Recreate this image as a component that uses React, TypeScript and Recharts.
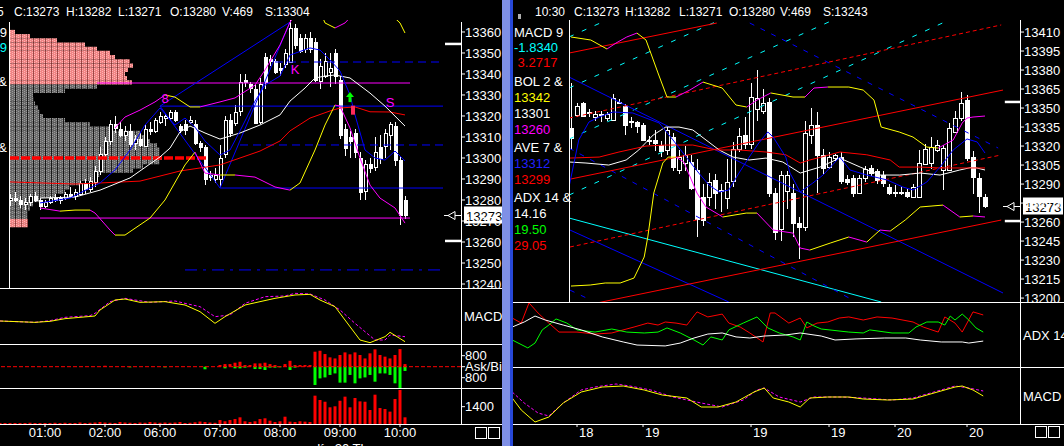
import React from "react";
import {
  ComposedChart,
  BarChart,
  Bar,
  Line,
  Scatter,
  XAxis,
  YAxis,
  ReferenceLine,
  Cell,
} from "recharts";

const FONT = '"Liberation Sans", Arial, Helvetica, sans-serif';
const WHITE = "#ffffff";
const RED = "#ff0000";
const BLUE = "#0000ff";
const MAG = "#ff00ff";
const YEL = "#ffff00";
const CYAN = "#00ffff";
const GREEN = "#00ff00";

// ---------------- left: 5 minute chart ----------------
const leftTimeLabels = ["01:00", "02:00", "06:00", "07:00", "08:00", "09:00", "10:00"];
const leftTimeBars = [9, 21, 32, 44, 56, 68, 80];
const leftPriceTicks = [13240, 13250, 13260, 13270, 13280, 13290, 13300, 13310, 13320, 13330, 13340, 13350, 13360];
const leftLast = 13273;

// bar, open, high, low, close
const leftCandles = [
  [2, 13280, 13283, 13277, 13281], [3, 13281, 13284, 13279, 13280], [4, 13280, 13282, 13276, 13278],
  [5, 13278, 13281, 13275, 13279], [6, 13279, 13283, 13277, 13282], [7, 13282, 13284, 13279, 13280],
  [8, 13280, 13281, 13275, 13277], [9, 13277, 13280, 13276, 13279], [10, 13279, 13282, 13278, 13281],
  [11, 13281, 13283, 13279, 13280], [12, 13280, 13282, 13278, 13281], [13, 13281, 13284, 13280, 13283],
  [14, 13283, 13286, 13281, 13282], [15, 13282, 13285, 13280, 13284], [16, 13283, 13289, 13282, 13288],
  [17, 13288, 13290, 13283, 13285], [18, 13285, 13291, 13284, 13289], [19, 13289, 13296, 13286, 13294],
  [20, 13294, 13305, 13292, 13302], [21, 13302, 13310, 13300, 13308], [22, 13308, 13318, 13306, 13316],
  [23, 13316, 13320, 13312, 13314], [24, 13314, 13317, 13310, 13311], [25, 13311, 13315, 13308, 13313],
  [26, 13313, 13316, 13305, 13307], [27, 13307, 13311, 13304, 13309], [28, 13309, 13312, 13305, 13306],
  [29, 13306, 13316, 13305, 13314], [30, 13314, 13317, 13311, 13313], [31, 13313, 13319, 13312, 13318],
  [32, 13317, 13322, 13316, 13320], [33, 13319, 13321, 13315, 13320], [34, 13319, 13323, 13318, 13322],
  [35, 13322, 13323, 13317, 13318], [36, 13315, 13316, 13312, 13313], [37, 13316, 13318, 13311, 13313],
  [38, 13317, 13320, 13316, 13318], [39, 13316, 13318, 13306, 13307], [40, 13307, 13308, 13303, 13305],
  [41, 13305, 13306, 13287, 13290], [42, 13292, 13294, 13289, 13291], [43, 13290, 13295, 13288, 13292],
  [44, 13290, 13306, 13286, 13300], [45, 13302, 13320, 13300, 13318], [46, 13318, 13321, 13310, 13312],
  [47, 13317, 13325, 13315, 13322], [48, 13322, 13340, 13320, 13336], [49, 13337, 13340, 13334, 13336],
  [50, 13335, 13336, 13331, 13333], [51, 13333, 13335, 13316, 13317], [52, 13317, 13338, 13316, 13335],
  [53, 13348, 13350, 13333, 13336], [54, 13347, 13349, 13344, 13346], [55, 13346, 13347, 13340, 13341],
  [56, 13343, 13345, 13339, 13342], [57, 13345, 13352, 13343, 13350], [58, 13346, 13366, 13345, 13362],
  [59, 13362, 13364, 13352, 13354], [60, 13357, 13359, 13350, 13351], [61, 13352, 13359, 13350, 13357],
  [62, 13357, 13360, 13350, 13352], [63, 13355, 13357, 13336, 13337], [64, 13337, 13347, 13333, 13344],
  [65, 13339, 13350, 13338, 13346], [66, 13341, 13350, 13334, 13343], [67, 13350, 13352, 13335, 13339],
  [68, 13337, 13339, 13309, 13311], [69, 13314, 13316, 13301, 13305], [70, 13310, 13313, 13300, 13308],
  [71, 13312, 13314, 13300, 13303], [72, 13300, 13303, 13280, 13284], [73, 13284, 13299, 13280, 13297],
  [74, 13297, 13300, 13293, 13295], [75, 13296, 13310, 13294, 13303], [76, 13305, 13311, 13297, 13300],
  [77, 13306, 13314, 13300, 13312], [78, 13311, 13317, 13304, 13316], [79, 13315, 13317, 13296, 13299],
  [80, 13299, 13301, 13268, 13273], [81, 13280, 13282, 13271, 13273],
];

const leftUpperBand = [
  [23, 13314.3], [25, 13319.5], [28, 13322.8], [31, 13326.7], [33, 13330], [35, 13329], [38, 13324.3],
  [40, 13324.3], [44, 13326.7], [47, 13328.6], [51, 13334.7], [53, 13341.9], [56, 13353.8], [58, 13364.7],
  [61, 13374], [64, 13370], [65, 13364.3], [67, 13361.9], [69, 13364.3], [72, 13372], [77, 13371],
  [80, 13364.3], [81, 13359.5],
];
const leftLowerBand = [
  [8, 13276.2], [12, 13274.7], [15, 13275.2], [18, 13275.2], [19, 13273.8], [22, 13265.7], [23, 13263.3],
  [25, 13263.3], [30, 13271.4], [33, 13280], [37, 13296.7], [39, 13302.8], [41, 13292.8], [44, 13291.9],
  [47, 13291.9], [51, 13290.9], [55, 13286.2], [58, 13284.7], [60, 13288.1], [63, 13303.8], [65, 13315.7],
  [67, 13325.2], [68, 13324.7], [70, 13314.3], [72, 13300], [74, 13287.1], [76, 13280.9], [79, 13276.2],
  [81, 13269],
];
const leftRedAvg = [
  [2, 13288.6], [15, 13287.6], [20, 13288.1], [28, 13289], [36, 13293.8], [44, 13296.7], [48, 13300],
  [52, 13303.3], [56, 13308.1], [58, 13312.9], [62, 13319], [66, 13322.4], [68, 13323.8], [71, 13324.3],
  [74, 13322], [78, 13321.9], [81, 13320.5],
];
const leftWhiteAvg = [
  [8, 13280.9], [15, 13281.4], [20, 13284.7], [26, 13290.5], [32, 13300.5], [34, 13304.7], [36, 13312.4],
  [38, 13315.2], [41, 13311.9], [44, 13309], [48, 13311.9], [52, 13315.7], [56, 13320.5], [58, 13327.1],
  [61, 13333.3], [63, 13338.1], [65, 13339], [67, 13339.5], [70, 13338.1], [74, 13330.9], [77, 13324.7],
  [81, 13315.2],
];
const leftBlueAvg = [
  [8, 13278.6], [14, 13280.9], [20, 13288.1], [23, 13294.3], [26, 13303.8], [29, 13315.7], [32, 13323.8],
  [35, 13315.7], [37, 13319], [39, 13314.7], [41, 13308.1], [44, 13301.4], [46, 13303.8], [48, 13312.9],
  [51, 13327.1], [53, 13334.7], [56, 13339], [58, 13349], [62, 13352.4], [64, 13351.4], [66, 13346.7],
  [68, 13341.4], [70, 13330], [71, 13320.5], [73, 13303.8], [75, 13300], [77, 13299], [79, 13303.3],
  [81, 13298.6],
];
const leftZigzag = [[58, 13364.7], [32, 13324.7], [44, 13285.7], [58, 13364.7]];
// from bar, to bar, price
const leftBlueLevels = [[32, 88.6, 13324.7], [44, 88.6, 13285.7]];
const leftBlueDashLevels = [[55, 88.6, 13345.7], [48, 88.6, 13306.2]];
const leftBlueDashDotLevels = [[37, 88.6, 13246.7]];
const leftValueArea = [[19.4, 82, 13335.7], [8, 82, 13271.4]];
const leftPoc = [[2, 41.6, 13300]];
const leftEdgeMarks = [13354.3, 13260.5];
const leftSignals = [
  { x: 33, v: 13328.6, t: "8" },
  { x: 59, v: 13342.4, t: "K" },
  { x: 78, v: 13326.7, t: "S" },
];
const leftBuyArrow = [{ x: 70, v: 13329 }];
const leftStopMark = [{ x: 70.6, v: 13323 }];

// volume at price (price level, width of row)
const profilePrices = [
  13360, 13358, 13356, 13354, 13352, 13350, 13348, 13346, 13344, 13342, 13340, 13338, 13336, 13334, 13332,
  13330, 13328, 13326, 13324, 13322, 13320, 13318, 13316, 13314, 13312, 13310, 13308, 13306, 13304, 13302,
  13300, 13298, 13296, 13294, 13292, 13290, 13288, 13286, 13284, 13282, 13280, 13278, 13276, 13274, 13272,
  13270, 13268,
];
const profileWidths = [
  5, 20, 47, 75, 87, 100, 105, 120, 123, 118, 115, 117, 122, 87, 55, 23, 24, 25, 28, 30, 33, 55, 80, 100,
  130, 137, 140, 147, 150, 150, 152, 150, 133, 123, 90, 85, 70, 60, 55, 45, 30, 23, 20, 18, 18, 18, 18,
];

const leftMacd = [
  [0, 0.2], [7, -0.2], [10, 0.1], [13, 0.9], [19, 1.7], [20, 3.5], [23, 6.5], [25, 6.8], [28, 5.8], [33, 6.0],
  [37, 5.0], [40, 3.0], [43, -0.5], [45, 1.5], [49, 5.0], [52, 6.0], [55, 7.0], [59, 8.0], [62, 8.2], [64, 6.5],
  [67, 4.5], [69, 0.5], [72, -5.5], [74, -6.3], [77, -4.5], [78, -3.2], [81, -6.0],
];
const leftMacdSignal = [
  [0, 0.2], [7, -0.2], [10, 0.3], [13, 1.3], [18, 1.8], [19, 2.5], [22, 6.0], [25, 7.0], [27, 6.5], [30, 5.8],
  [35, 6.2], [37, 5.5], [40, 4.5], [43, 1.5], [46, 2.0], [49, 5.5], [53, 7.5], [57, 7.7], [59, 8.5], [62, 8.3],
  [65, 6.5], [68, 3.5], [71, -0.5], [73, -3.0], [75, -5.5], [77, -5.5], [78, -4.0], [81, -4.5],
];

// per bar 0..81
const leftAsk = [
  0, 0, 0, 0, 0, 0, 0, 0, 0, 0, 0, 0, 0, 0, 0, 0, 0, 0, 0, 0, 0, 70, 0, 0, 0, 0, 0, 0, 0, 0, 0, 0, 0, 0, 0,
  0, 0, 0, 0, 0, 0, 0, 0, 0, 120, 190, 190, 290, 360, 120, 120, 240, 240, 290, 190, 120, 50, 190, 430, 120,
  120, 120, 120, 1090, 1160, 920, 680, 600, 850, 1040, 900, 1040, 850, 600, 970, 1260, 850, 730, 600, 850,
  1280, 190,
];
const leftBid = [
  0, 0, 0, 0, 0, 0, 0, 0, 0, 0, 0, 0, 0, 0, 0, 0, 0, 0, 0, 0, 0, 0, 0, 0, 0, 0, 50, 0, 0, 0, 0, 0, 0, 50, 0,
  0, 0, 0, 0, 0, 0, 190, 0, 0, 0, 120, 0, 120, 120, 70, 0, 170, 170, 240, 70, 70, 50, 0, 240, 70, 0, 0, 0,
  1330, 850, 780, 600, 490, 1160, 1160, 600, 1210, 850, 780, 600, 1090, 490, 490, 600, 1210, 1580, 310,
];
const leftVolume = [
  80, 80, 80, 80, 80, 80, 100, 80, 80, 80, 80, 100, 80, 100, 80, 80, 120, 80, 100, 120, 160, 120, 100, 80,
  160, 120, 100, 80, 120, 100, 160, 120, 100, 120, 100, 120, 160, 80, 100, 140, 200, 160, 120, 100, 320,
  220, 320, 400, 540, 220, 160, 220, 400, 460, 270, 160, 220, 590, 190, 160, 220, 190, 160, 2290, 1940,
  1800, 1350, 1430, 1880, 2210, 1350, 2100, 1830, 1800, 1130, 2370, 1290, 1210, 1000, 2020, 2750, 540,
];

// ---------------- right: intraday chart ----------------
const rightDayLabels = ["18", "19", "19", "19", "20", "20"];
const rightDayBars = [1, 12, 30, 43, 54, 66];
const rightPriceTicks = [13200, 13215, 13230, 13245, 13260, 13275, 13290, 13305, 13320, 13335, 13350, 13365, 13380, 13395, 13410];
const rightLast = 13273;

const rightCandles = [
  [0, 13334, 13370, 13317, 13326], [1, 13345, 13354, 13343, 13352], [2, 13354, 13355, 13343, 13344],
  [3, 13347, 13349, 13343, 13346], [4, 13343, 13348, 13340, 13345], [5, 13345, 13348, 13339, 13344],
  [6, 13342, 13347, 13340, 13345], [7, 13341, 13361, 13340, 13358], [8, 13355, 13357, 13353, 13355],
  [9, 13352, 13353, 13329, 13337], [10, 13340, 13343, 13334, 13339], [11, 13339, 13340, 13330, 13336],
  [12, 13337, 13338, 13324, 13325], [13, 13325, 13328, 13321, 13325], [14, 13325, 13333, 13316, 13322.5],
  [15, 13321, 13324, 13311, 13316], [16, 13317, 13335, 13313, 13333], [17, 13327, 13330, 13300, 13303],
  [18, 13301, 13317, 13298, 13311], [19, 13307, 13320, 13300, 13313], [20, 13307.5, 13313, 13285, 13287],
  [21, 13301, 13310, 13248, 13262], [22, 13280, 13290, 13257, 13262], [23, 13280, 13299, 13273, 13292],
  [24, 13293, 13298, 13270, 13283], [25, 13285, 13290, 13268, 13284], [26, 13279, 13310, 13270, 13292],
  [27, 13293, 13323, 13288, 13318], [28, 13318, 13334, 13315, 13328], [29, 13329, 13343, 13318, 13322],
  [30, 13322, 13370, 13318, 13359], [31, 13349, 13380, 13340, 13358], [32, 13348, 13365, 13345, 13354],
  [33, 13355, 13358, 13280, 13283], [34, 13283, 13287, 13246, 13252], [35, 13254, 13300, 13245, 13297],
  [36, 13284, 13300, 13270, 13297], [37, 13283, 13290, 13248, 13259], [38, 13259, 13264, 13231, 13256],
  [39, 13256, 13340, 13253, 13330], [40, 13329, 13350, 13322, 13337], [41, 13337, 13347, 13283, 13313],
  [42, 13313, 13318, 13297, 13303], [43, 13303, 13315, 13302, 13311], [44, 13311, 13314, 13308, 13313],
  [45, 13311, 13315, 13290, 13292], [46, 13294, 13297, 13289, 13292], [47, 13295, 13297, 13280, 13283],
  [48, 13283, 13297, 13282, 13295], [49, 13295, 13304, 13292, 13302], [50, 13303, 13305, 13296, 13299],
  [51, 13300, 13302, 13290, 13293], [52, 13297, 13300, 13288, 13291], [53, 13288, 13290, 13281, 13283],
  [54, 13284, 13289, 13280, 13283], [55, 13283, 13288, 13281, 13283.5], [56, 13283.5, 13286, 13279, 13280],
  [57, 13280, 13290, 13279, 13288], [58, 13280, 13317, 13279, 13307], [59, 13306, 13322, 13305, 13318],
  [60, 13306, 13327, 13302, 13319], [61, 13317, 13325, 13315, 13321], [62, 13301, 13321, 13285, 13318.5],
  [63, 13301, 13338, 13300, 13334], [64, 13331, 13348, 13330, 13342], [65, 13342, 13363, 13340, 13354],
  [66, 13356, 13360, 13308, 13310], [67, 13311, 13316, 13282, 13295], [68, 13295, 13299, 13267, 13281],
  [69, 13280, 13282, 13271, 13273],
];

const rightUpperBand = [
  [0, 13406.1], [3.3, 13403.7], [6, 13396.6], [7.5, 13401.3], [9.3, 13406.1], [11, 13409.2], [12.5, 13403.7],
  [13.3, 13393.4], [14.5, 13377.7], [16, 13358.7], [17.5, 13358.7], [19.8, 13364.2], [22, 13370.5],
  [25.2, 13365.8], [27.5, 13352.4], [29.3, 13350.8], [31, 13356.3], [33.3, 13361.9], [37, 13358.7],
  [39, 13358.7], [40.5, 13365.8], [42.8, 13366.6], [46.3, 13366.6], [48.7, 13364.2], [50.5, 13356.3],
  [51.7, 13335], [54.7, 13331.1], [57, 13327.1], [59.3, 13319.2], [61.2, 13318.4], [63.7, 13324.8],
  [65.2, 13338.2], [66, 13342.1], [67, 13342.9], [69, 13343.7],
];
const rightLowerBand = [
  [0, 13209.5], [3.2, 13210.3], [5.7, 13211.9], [8.2, 13211.9], [10.5, 13215.8], [12.2, 13232.4],
  [12.8, 13248.2], [13.8, 13282.9], [15.3, 13306.6], [16.2, 13311.3], [17.5, 13311.3], [18.8, 13307.4],
  [21, 13282.9], [22.5, 13271.9], [25.3, 13264], [29.2, 13267.1], [31, 13267.1], [33.7, 13253.7],
  [37, 13251.3], [38.2, 13239.5], [39.8, 13237.9], [43.2, 13243.4], [46.3, 13248.2], [49.3, 13244.2],
  [51.5, 13253.7], [53.2, 13252.9], [55.7, 13261.6], [58.2, 13271.9], [62, 13273.4], [64.8, 13264],
  [67, 13264.8], [69, 13264],
];
const rightMidBand = [
  [-0.33, 13307.4], [2.5, 13306.6], [6.3, 13305], [9.2, 13309], [11.3, 13316.9], [13.7, 13328.7],
  [15.8, 13335], [18, 13335], [20.3, 13332.7], [22.5, 13324.8], [24.7, 13316.9], [27, 13311.3],
  [29.7, 13309], [32.5, 13310.5], [35.3, 13307.4], [38.2, 13298.7], [41.5, 13303.4], [44.8, 13310.5],
  [48.2, 13303.4], [51.5, 13297.1], [54.8, 13297.1], [58.2, 13298.7], [61.5, 13297.1], [64.8, 13301.1],
  [67, 13303.4], [69, 13301.1],
];
const rightRedAvg = [
  [-0.33, 13310.5], [4.7, 13311.3], [8, 13315.3], [12.5, 13320], [15.8, 13320.8], [20.3, 13320.8],
  [24.2, 13316.9], [28, 13316.9], [32.5, 13315.3], [35.8, 13313.1], [38.2, 13306.6], [39.8, 13309],
  [41.7, 13311.3], [44.8, 13315.3], [49.3, 13313.1], [53.2, 13309], [54.7, 13303.4], [58.2, 13303.4],
  [61.5, 13302.7], [64.8, 13302.7], [69, 13302.7],
];
const rightBlueAvg = [
  [-0.33, 13287.7], [1.3, 13324.8], [3, 13339], [4.7, 13342.9], [7, 13346.9], [10.3, 13346.1],
  [12.5, 13342.1], [14.7, 13338.2], [17, 13324.8], [19.2, 13311.3], [21.3, 13298.7], [23, 13289.2],
  [24.7, 13283.7], [26.3, 13285.3], [28, 13298.7], [29.7, 13311.3], [31.3, 13322.4], [32.8, 13331.1],
  [33.7, 13327.1], [35.8, 13311.3], [36.5, 13298.7], [38.2, 13283.7], [40.3, 13290.8], [42, 13297.1],
  [44.8, 13311.3], [46.5, 13301.1], [49.3, 13297.1], [52.7, 13293.2], [55.3, 13287.7], [57, 13285.3],
  [59.3, 13291.6], [61.5, 13303.4], [63.7, 13316.9], [66, 13325.6], [67.7, 13323.2], [69, 13314.5],
];
// trend lines: bar1, price1, bar2, price2
const rightRedLines = [
  [-0.33, 13393.4, 24.3, 13417.1],
  [-0.33, 13293.7, 72, 13364.2],
  [-0.33, 13191.6, 71.7, 13261.6],
];
const rightRedDashLines = [
  [-0.33, 13342.1, 71.7, 13415.6],
  [-0.17, 13240.3, 71.7, 13313],
];
const rightBlueLines = [
  [-0.33, 13374.5, 72, 13204],
  [-0.17, 13253.7, 26.3, 13196.9],
];
const rightBlueDashLines = [
  [29.8, 13417.1, 71.2, 13318.4],
  [-0.33, 13318.4, 47, 13198.4],
  [-0.17, 13206.3, 3.3, 13198.4],
];
const rightCyanDashLines = [
  [-0.33, 13406.1, 6, 13419.5],
  [-0.33, 13365.8, 24.8, 13419.5],
  [-0.33, 13325.5, 43.7, 13419.5],
  [-0.33, 13281.3, 63, 13419.5],
];
const rightCyanLines = [[-0.33, 13263.2, 51.7, 13196.9]];
const rightEdgeMarks = [13354.8, 13260.8];

const rightAdx = [
  [-9.8, 22.2], [-7.8, 25], [-6, 28.3], [-4.3, 26.1], [-1.3, 23.3], [1.7, 20.6], [5.2, 16.7], [8.7, 13.9],
  [11, 12.2], [15.7, 11.7], [18.2, 13.3], [20.5, 16.1], [22.8, 18.3], [25.2, 18.9], [27.5, 16.7],
  [29.8, 16.1], [32.2, 17.2], [35.8, 17.8], [38.2, 18.9], [41.7, 17.2], [44, 15], [47.5, 15.6],
  [52.3, 16.1], [55.8, 16.1], [58.2, 15], [61.7, 13.9], [65.2, 13.9], [66.3, 13.3], [68.7, 14.4],
];
const rightPlusDi = [
  [-9.8, 15], [-7.2, 10.6], [-6, 13.3], [-4.8, 20.6], [-3.7, 23.3], [-2.5, 26.7], [-0.7, 24.4], [1, 20.6],
  [4, 19.4], [6.8, 21.1], [9.3, 19.4], [12.2, 18.9], [14.5, 19.4], [16, 21.7], [18.2, 18.9], [20.5, 15],
  [22, 12.2], [23.3, 16.7], [25.2, 15], [26.3, 20.6], [28.7, 24.4], [31, 27.8], [32.8, 21.7], [34.7, 18.9],
  [37, 16.7], [38.2, 15], [39.3, 25], [40.5, 22.8], [41.7, 21.1], [46.3, 19.4], [48.7, 18.9], [49.8, 20.6],
  [53.5, 18.9], [56.3, 18.9], [57.5, 22.2], [59.3, 25], [61.2, 25], [62.3, 23.3], [63.2, 28.3], [64, 26.1],
  [65.2, 29.4], [66.3, 26.1], [67.5, 21.7], [68.7, 19.4],
];
const rightMinusDi = [
  [-9.8, 27.2], [-8.3, 24.4], [-7, 35.6], [-5.5, 30], [-3.7, 24.4], [-2, 19.4], [1, 19.4], [4, 18.3],
  [6.8, 18.9], [10.5, 22.2], [12.8, 24.4], [14.5, 23.3], [15.7, 25], [17.5, 24.4], [19.3, 23.3], [21, 30.6],
  [22.8, 27.8], [25.2, 29.4], [26.3, 24.4], [28.2, 22.2], [29.8, 18.9], [32, 13.9], [33.2, 30], [34, 30],
  [36.3, 24.4], [38.2, 27.2], [39.3, 21.7], [41, 24.4], [42.8, 25], [44.7, 27.2], [46.3, 27.8], [48.7, 26.1],
  [51, 27.8], [53.5, 27.2], [57, 25], [58.7, 22.2], [61.2, 19.4], [62.3, 27.8], [64, 24.4], [65.2, 19.4],
  [67, 30.6], [68.7, 28.9],
];
const rightMacd = [
  [-9.8, 0], [-8.3, -6], [-6, -12], [-3.7, -9.5], [-1.3, -2.5], [1.7, 3], [5.2, 5.5], [8.7, 6], [12.2, 4],
  [15.2, 1.5], [19.3, 0], [21.7, -4.5], [24.5, -4.5], [27.5, -2], [30.5, 3], [32.2, 5], [33.7, 0],
  [36.3, -2], [38.2, -4.5], [39.8, 0], [42.8, 0.5], [46.3, 0.5], [48.7, -0.5], [52.8, -1], [57, -0.5],
  [60.5, 2.5], [64, 5.5], [65.2, 6], [67, 4], [68.7, 1],
];
const rightMacdSignal = [
  [-9.8, 3], [-7.8, -2.5], [-5.5, -7.5], [-3.7, -9], [-1.3, -2.5], [1.7, 4], [4, 5.5], [7.5, 7], [9.8, 6],
  [13.3, 4], [17, 0.5], [21.7, -2.5], [25.2, -4.5], [28.7, -1], [31, 4], [32.2, 5], [34.7, 0.5], [38.2, -2],
  [40.5, 0.5], [45.2, 0.5], [48.7, 0], [53.5, -1], [57, 0], [60.5, 3], [64, 6], [66.3, 5], [68.7, 3.5],
];

// ---------------- helpers ----------------
type Pt = { x: number; v: number };
const pts = (a: number[][]): Pt[] => a.map(([x, v]) => ({ x, v }));
const twoPts = (a: number[]): Pt[] => [{ x: a[0], v: a[1] }, { x: a[2], v: a[3] }];
const level = (a: number[]): Pt[] => [{ x: a[0], v: a[2] }, { x: a[1], v: a[2] }];
const candles = (a: number[][]) => a.map(([x, o, h, l, c]) => ({ x, o, h, l, c }));

// a band is drawn in one colour while it widens, in another while it narrows
function bandSegments(a: number[][], upColor: string, downColor: string, flatColor: string) {
  const p = pts(a);
  const out: { color: string; data: Pt[] }[] = [];
  for (let k = 1; k < p.length; k++) {
    const d = p[k].v - p[k - 1].v;
    const color = d > 0 ? upColor : d < 0 ? downColor : flatColor;
    const last = out[out.length - 1];
    if (last && last.color === color) last.data.push(p[k]);
    else out.push({ color, data: [p[k - 1], p[k]] });
  }
  return out;
}

const lineEl = (key: string, data: Pt[] | undefined, color: string, dash?: string, width = 1) => (
  <Line
    key={key}
    data={data}
    dataKey="v"
    type="linear"
    stroke={color}
    strokeWidth={width}
    strokeDasharray={dash}
    dot={false}
    activeDot={false}
    isAnimationActive={false}
    legendType="none"
  />
);

const candleShape = (bodyW: number) => (p: any) => {
  const { x, y, width, height, payload } = p;
  const { o, h, l, c } = payload;
  if (!(h > l) || !isFinite(y)) return <g />;
  const k = height / (h - l);
  const cx = Math.round(x + width / 2) + 0.5;
  const yo = y + (h - o) * k;
  const yc = y + (h - c) * k;
  const top = Math.round(Math.min(yo, yc)) + 0.5;
  const bh = Math.max(1, Math.round(Math.abs(yc - yo)));
  const up = c >= o;
  return (
    <g shapeRendering="crispEdges">
      <line x1={cx} x2={cx} y1={y} y2={y + height} stroke={WHITE} />
      <rect x={cx - bodyW / 2} y={top} width={bodyW} height={bh} fill={up ? "#000" : WHITE} stroke={WHITE} />
    </g>
  );
};

const priceTag = (value: number) => (props: any) => {
  const vb = props.viewBox || {};
  const ax = vb.x + vb.width;
  const y = Math.round(vb.y) + 0.5;
  return (
    <g>
      <line x1={ax - 17} x2={ax} y1={y} y2={y} stroke={WHITE} />
      <polygon points={`${ax - 13},${y} ${ax - 6},${y - 4} ${ax - 6},${y + 4}`} fill="#000" stroke={WHITE} />
      <rect x={ax + 3} y={y - 9} width={40} height={17} fill={WHITE} />
      <text x={ax + 5} y={y + 5} fill="#000" fontSize={13} fontFamily={FONT}>
        {value}
      </text>
    </g>
  );
};

// plain tick text (no wrapping)
const yTick = (fmt?: (v: number) => string) => (p: any) => (
  <text x={p.x} y={p.y} dy="0.355em" fill={WHITE} fontSize={13} fontFamily={FONT} textAnchor="start">
    {fmt ? fmt(p.payload.value) : String(p.payload.value)}
  </text>
);

const zero = { top: 0, right: 0, bottom: 0, left: 0 };
const roomBelow = { top: 0, right: 0, bottom: 6, left: 0 };
const abs = (left: number, top: number, z = 1): React.CSSProperties => ({ position: "absolute", left, top, zIndex: z });

// ---------------- left panels ----------------
function LeftProfile() {
  const data = profilePrices.map((p, k) => ({ p, w: profileWidths[k] }));
  const vah = leftValueArea[0][2];
  const val = leftValueArea[1][2];
  return (
    <BarChart width={451} height={268} layout="vertical" data={data} margin={zero} barCategoryGap={0}>
      <defs>
        <pattern id="pvGray" width="6" height="2" patternUnits="userSpaceOnUse">
          <rect width="6" height="2" fill="#6a6a6a" />
          <rect x="0" y="0" width="1" height="1" fill="#9c9c9c" />
          <rect x="2" y="1" width="1" height="1" fill="#9c9c9c" />
          <rect x="4" y="0" width="1" height="1" fill="#9c9c9c" />
          <rect x="5" y="0" width="1" height="2" fill="#1c1c1c" />
        </pattern>
        <pattern id="pvPink" width="6" height="2" patternUnits="userSpaceOnUse">
          <rect width="6" height="2" fill="#f08484" />
          <rect x="0" y="0" width="1" height="1" fill="#ffb4b4" />
          <rect x="2" y="1" width="1" height="1" fill="#ffb4b4" />
          <rect x="4" y="0" width="1" height="1" fill="#ffb4b4" />
          <rect x="5" y="0" width="1" height="2" fill="#a04848" />
        </pattern>
      </defs>
      <XAxis type="number" hide domain={[0, 451]} allowDataOverflow />
      <YAxis type="number" dataKey="p" hide reversed domain={[13238.1, 13365.7]} allowDataOverflow />
      <Bar dataKey="w" barSize={4.2} isAnimationActive={false}>
        {data.map((d, k) => (
          <Cell key={k} fill={d.p > vah || d.p < val ? "url(#pvPink)" : "url(#pvGray)"} />
        ))}
      </Bar>
    </BarChart>
  );
}

function LeftMain() {
  return (
    <ComposedChart width={503} height={274} data={candles(leftCandles)} margin={roomBelow}>
      <XAxis type="number" dataKey="x" hide domain={[0, 92.2]} allowDataOverflow />
      <YAxis
        orientation="right"
        width={42}
        domain={[13238.1, 13365.7]}
        allowDataOverflow
        ticks={leftPriceTicks}
        interval={0}
        tick={yTick()}
        tickSize={4}
        tickMargin={0}
        tickLine={{ stroke: WHITE }}
        axisLine={false}
      />
      <Bar dataKey={(d: any) => [d.l, d.h]} barSize={5} shape={candleShape(3)} isAnimationActive={false} />
      {leftPoc.map((a, k) => lineEl("poc" + k, level(a), RED, "9 2", 3.5))}
      {leftValueArea.map((a, k) => lineEl("va" + k, level(a), MAG))}
      {leftBlueLevels.map((a, k) => lineEl("bl" + k, level(a), BLUE))}
      {leftBlueDashLevels.map((a, k) => lineEl("bd" + k, level(a), BLUE, "8 5"))}
      {leftBlueDashDotLevels.map((a, k) => lineEl("bdd" + k, level(a), BLUE, "12 6 3 6"))}
      {lineEl("zz", pts(leftZigzag), BLUE)}
      {lineEl("red", pts(leftRedAvg), RED)}
      {lineEl("white", pts(leftWhiteAvg), WHITE)}
      {lineEl("blue", pts(leftBlueAvg), BLUE)}
      {bandSegments(leftUpperBand, MAG, YEL, YEL).map((s, k) => lineEl("ub" + k, s.data, s.color))}
      {bandSegments(leftLowerBand, YEL, MAG, YEL).map((s, k) => lineEl("lb" + k, s.data, s.color))}
      {leftEdgeMarks.map((v, k) => lineEl("em" + k, [{ x: 89, v }, { x: 92.2, v }], WHITE, undefined, 2.5))}
      <Scatter
        data={leftSignals}
        dataKey="v"
        isAnimationActive={false}
        shape={(p: any) => (
          <text x={p.cx} y={p.cy + 5} textAnchor="middle" fill={MAG} fontSize={13} fontFamily={FONT}>
            {p.payload.t}
          </text>
        )}
      />
      <Scatter
        data={leftBuyArrow}
        dataKey="v"
        isAnimationActive={false}
        shape={(p: any) => (
          <g>
            <polygon points={`${p.cx},${p.cy - 5} ${p.cx - 4},${p.cy} ${p.cx + 4},${p.cy}`} fill={GREEN} />
            <rect x={p.cx - 1.5} y={p.cy} width={3} height={5} fill={GREEN} />
          </g>
        )}
      />
      <Scatter
        data={leftStopMark}
        dataKey="v"
        isAnimationActive={false}
        shape={(p: any) => <rect x={p.cx - 2} y={p.cy - 4} width={4} height={9} fill="#ff2a5a" />}
      />
      <ReferenceLine y={leftLast} stroke="none" label={priceTag(leftLast)} />
    </ComposedChart>
  );
}

function LeftMacd() {
  return (
    <ComposedChart width={503} height={55} data={pts(leftMacd)} margin={zero}>
      <XAxis type="number" dataKey="x" hide domain={[0, 92.2]} allowDataOverflow />
      <YAxis
        orientation="right"
        width={42}
        domain={[-6.7, 9.8]}
        allowDataOverflow
        ticks={[1.7]}
        tick={yTick(() => "MACD")}
        tickSize={3}
        tickMargin={0}
        tickLine={false}
        axisLine={false}
      />
      {lineEl("sig", pts(leftMacdSignal), MAG, "3 2")}
      {lineEl("macd", undefined, YEL)}
    </ComposedChart>
  );
}

function LeftAskBid() {
  const data = leftAsk.map((a, k) => ({ x: k, ask: a, bid: -leftBid[k] }));
  return (
    <ComposedChart width={503} height={44} data={data} margin={zero} stackOffset="sign">
      <XAxis type="number" dataKey="x" hide domain={[0, 92.2]} allowDataOverflow />
      <YAxis
        orientation="right"
        width={42}
        domain={[-1549, 1650]}
        allowDataOverflow
        ticks={[-800, 0, 800]}
        interval={0}
        tick={yTick((v) => (v === 0 ? "Ask/Bid" : String(Math.abs(v))))}
        tickSize={4}
        tickMargin={0}
        tickLine={{ stroke: WHITE }}
        axisLine={false}
      />
      <ReferenceLine y={0} stroke={RED} strokeDasharray="4 2" />
      <Bar dataKey="ask" stackId="ab" fill={RED} barSize={3} isAnimationActive={false} />
      <Bar dataKey="bid" stackId="ab" fill={GREEN} barSize={3} isAnimationActive={false} />
    </ComposedChart>
  );
}

function LeftVolume() {
  const data = leftVolume.map((v, k) => ({ x: k, vol: v }));
  return (
    <ComposedChart width={503} height={58} data={data} margin={zero}>
      <XAxis
        type="number"
        dataKey="x"
        domain={[0, 92.2]}
        allowDataOverflow
        ticks={leftTimeBars}
        interval={0}
        tick={(p: any) => (
          <text x={p.x} y={p.y} dy="0.71em" fill={WHITE} fontSize={13} fontFamily={FONT} textAnchor="middle">
            {leftTimeLabels[leftTimeBars.indexOf(p.payload.value)]}
          </text>
        )}
        tickSize={3}
        tickMargin={1}
        tickLine={{ stroke: WHITE }}
        axisLine={false}
        height={22}
      />
      <YAxis
        orientation="right"
        width={42}
        domain={[0, 2910]}
        allowDataOverflow
        ticks={[1400]}
        tick={yTick()}
        tickSize={4}
        tickMargin={0}
        tickLine={{ stroke: WHITE }}
        axisLine={false}
      />
      <Bar dataKey="vol" fill={RED} barSize={3} isAnimationActive={false} />
    </ComposedChart>
  );
}

// ---------------- right panels ----------------
function RightMain() {
  return (
    <ComposedChart width={495} height={288} data={candles(rightCandles)} margin={roomBelow}>
      <XAxis type="number" dataKey="x" hide domain={[-0.33, 74.83]} allowDataOverflow />
      <YAxis
        orientation="right"
        width={44}
        domain={[13196.9, 13419.5]}
        allowDataOverflow
        ticks={rightPriceTicks}
        interval={0}
        tick={yTick()}
        tickSize={4}
        tickMargin={0}
        tickLine={{ stroke: WHITE }}
        axisLine={false}
      />
      <Bar dataKey={(d: any) => [d.l, d.h]} barSize={6} shape={candleShape(4)} isAnimationActive={false} />
      {rightCyanDashLines.map((a, k) => lineEl("cd" + k, twoPts(a), CYAN, "5 9"))}
      {rightCyanLines.map((a, k) => lineEl("cs" + k, twoPts(a), CYAN))}
      {rightBlueLines.map((a, k) => lineEl("bs" + k, twoPts(a), BLUE))}
      {rightBlueDashLines.map((a, k) => lineEl("bd" + k, twoPts(a), BLUE, "5 7"))}
      {rightRedLines.map((a, k) => lineEl("rs" + k, twoPts(a), RED))}
      {rightRedDashLines.map((a, k) => lineEl("rd" + k, twoPts(a), RED, "4 3"))}
      {lineEl("mid", pts(rightMidBand), WHITE)}
      {lineEl("red", pts(rightRedAvg), RED)}
      {lineEl("blue", pts(rightBlueAvg), BLUE)}
      {bandSegments(rightUpperBand, MAG, YEL, YEL).map((s, k) => lineEl("ub" + k, s.data, s.color))}
      {bandSegments(rightLowerBand, YEL, MAG, YEL).map((s, k) => lineEl("lb" + k, s.data, s.color))}
      {rightEdgeMarks.map((v, k) => lineEl("em" + k, [{ x: 72.3, v }, { x: 74.83, v }], WHITE, undefined, 2.5))}
      <ReferenceLine y={rightLast} stroke="none" label={priceTag(rightLast)} />
    </ComposedChart>
  );
}

function RightAdx() {
  return (
    <ComposedChart width={554} height={65} data={pts(rightAdx)} margin={zero}>
      <XAxis type="number" dataKey="x" hide domain={[-10.17, 74.83]} allowDataOverflow />
      <YAxis
        orientation="right"
        width={44}
        domain={[0, 36.1]}
        allowDataOverflow
        ticks={[17.8]}
        tick={yTick(() => "ADX 14")}
        tickSize={3}
        tickMargin={0}
        tickLine={false}
        axisLine={false}
      />
      {lineEl("minus", pts(rightMinusDi), RED)}
      {lineEl("plus", pts(rightPlusDi), GREEN)}
      {lineEl("adx", undefined, WHITE)}
    </ComposedChart>
  );
}

function RightMacd() {
  return (
    <ComposedChart width={554} height={79} data={pts(rightMacd)} margin={zero}>
      <XAxis
        type="number"
        dataKey="x"
        domain={[-10.17, 74.83]}
        allowDataOverflow
        ticks={rightDayBars}
        interval={0}
        tick={(p: any) => (
          <text x={p.x + 2} y={p.y} dy="0.71em" fill={WHITE} fontSize={13} fontFamily={FONT} textAnchor="start">
            {rightDayLabels[rightDayBars.indexOf(p.payload.value)]}
          </text>
        )}
        tickSize={3}
        tickMargin={1}
        tickLine={{ stroke: WHITE }}
        axisLine={false}
        height={22}
      />
      <YAxis
        orientation="right"
        width={44}
        domain={[-13, 15.5]}
        allowDataOverflow
        ticks={[1]}
        tick={yTick(() => "MACD")}
        tickSize={3}
        tickMargin={0}
        tickLine={false}
        axisLine={false}
      />
      {lineEl("sig", pts(rightMacdSignal), MAG, "3 2")}
      {lineEl("macd", undefined, YEL)}
    </ComposedChart>
  );
}

// ---------------- frame, headers, legends ----------------
const leftHeader = [
  ["C:13273", 14], ["H:13282", 66], ["L:13271", 118], ["O:13280", 170], ["V:469", 222], ["S:13304", 265],
];
const rightHeader = [
  ["10:30", 535], ["C:13273", 574], ["H:13282", 625], ["L:13271", 679], ["O:13280", 729], ["V:469", 780], ["S:13243", 823],
];
const rightLegend: [string, string][] = [
  ["MACD 9", WHITE], ["-1.8340", CYAN], [" 3.2717", RED], ["BOL 2 &", WHITE], ["13342", YEL], ["13301", WHITE],
  ["13260", MAG], ["AVE 7 &", WHITE], ["13312", "#2020ff"], ["13299", RED], ["ADX 14 &", WHITE], ["14.16", WHITE],
  ["19.50", GREEN], ["29.05", RED],
];
const rightLegendY = [37, 52, 67, 86, 102, 118, 134, 152, 168, 184, 202, 218, 234, 250];

function Overlay() {
  const t = { fontFamily: FONT, fill: WHITE };
  return (
    <svg width={1064} height={446} style={{ position: "absolute", left: 0, top: 0, zIndex: 5 }}>
      <g stroke={WHITE} strokeWidth={1} shapeRendering="crispEdges">
        <line x1={9.5} x2={9.5} y1={22} y2={288} />
        <line x1={461.5} x2={461.5} y1={22} y2={424} />
        <line x1={0} x2={502} y1={288.5} y2={288.5} />
        <line x1={0} x2={502} y1={344.5} y2={344.5} />
        <line x1={0} x2={502} y1={388.5} y2={388.5} />
        <line x1={0} x2={502} y1={424.5} y2={424.5} />
        <line x1={569.5} x2={569.5} y1={20} y2={302} />
        <line x1={1020.5} x2={1020.5} y1={20} y2={424} />
        <line x1={513} x2={1064} y1={302.5} y2={302.5} />
        <line x1={513} x2={1064} y1={367.5} y2={367.5} />
        <line x1={513} x2={1064} y1={424.5} y2={424.5} />
        <rect x={475.5} y={427.5} width={11} height={11} fill="none" />
        <rect x={488.5} y={427.5} width={11} height={11} fill="none" />
        <rect x={1035.5} y={426.5} width={11} height={11} fill="none" />
        <rect x={1048.5} y={426.5} width={11} height={11} fill="none" />
      </g>
      <rect x={502} y={0} width={8} height={446} fill="#7f90e6" />
      <rect x={510} y={0} width={3} height={446} fill="#2748d8" />
      <rect x={518} y={14} width={3} height={5} fill="#b0b0b0" />
      <text x={-3} y={16} fontSize={12} {...t}>5</text>
      {leftHeader.map(([s, x]) => (
        <text key={s as string} x={x as number} y={16} fontSize={12} {...t}>{s}</text>
      ))}
      {rightHeader.map(([s, x]) => (
        <text key={s as string} x={x as number} y={16} fontSize={12} {...t}>{s}</text>
      ))}
      <text x={7} y={37} fontSize={13} textAnchor="end" {...t}>MACD 9</text>
      <text x={7} y={52} fontSize={13} textAnchor="end" fontFamily={FONT} fill={CYAN}>9</text>
      <text x={7} y={86} fontSize={13} textAnchor="end" {...t}>BOL 2 &amp;</text>
      <text x={7} y={152} fontSize={13} textAnchor="end" {...t}>AVE 7 &amp;</text>
      {rightLegend.map(([s, c], k) => (
        <text key={k} x={514} y={rightLegendY[k]} fontSize={13} fontFamily={FONT} fill={c} xmlSpace="preserve">
          {s}
        </text>
      ))}
      <text x={313} y={453} fontSize={13} {...t}>día 20 Thu</text>
    </svg>
  );
}

export default function App() {
  return (
    <div
      style={{
        position: "fixed",
        left: 0,
        top: 0,
        width: 1064,
        height: 446,
        overflow: "hidden",
        background: "#000",
        fontFamily: FONT,
      }}
    >
      <div style={abs(10, 20, 1)}>
        <LeftProfile />
      </div>
      <div style={abs(0, 289, 2)}>
        <LeftMacd />
      </div>
      <div style={abs(0, 344, 2)}>
        <LeftAskBid />
      </div>
      <div style={abs(0, 388, 2)}>
        <LeftVolume />
      </div>
      <div style={abs(0, 20, 3)}>
        <LeftMain />
      </div>
      <div style={abs(510, 302, 2)}>
        <RightAdx />
      </div>
      <div style={abs(510, 367, 2)}>
        <RightMacd />
      </div>
      <div style={abs(569, 20, 3)}>
        <RightMain />
      </div>
      <Overlay />
    </div>
  );
}
